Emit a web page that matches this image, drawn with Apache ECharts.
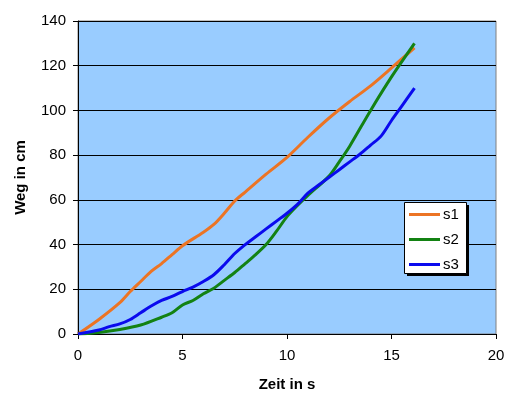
<!DOCTYPE html>
<html>
<head>
<meta charset="utf-8">
<script src="https://cdn.jsdelivr.net/npm/echarts@6/dist/echarts.min.js"></script>
<style>html,body{margin:0;padding:0;background:#fff}#c{width:514px;height:394px}</style>
</head>
<body>
<div id="c"></div>
<script>
const seriesNames = ['s1', 's2', 's3'];
const t1 = [0, 1, 2, 2.5, 3, 3.5, 4, 4.5, 5, 6, 6.5, 7, 7.5, 8, 9, 10, 11, 12, 13, 14, 15, 16.1];
const s1 = [0, 6.5, 14, 19, 23.5, 28, 31.5, 35.5, 39.5, 45.5, 49, 54, 59.5, 63.5, 71.5, 79, 88, 96.5, 104, 111, 119, 128];
const t2 = [0, 1, 2, 3, 4, 4.5, 5, 5.5, 6, 6.5, 7, 7.5, 8, 8.5, 9, 9.5, 10, 10.5, 11, 12, 12.5, 13, 14, 15, 16.1];
const s2 = [0, 0.7, 2, 4, 7.5, 9.5, 13, 15, 18, 20.5, 24, 27.5, 31.5, 35.5, 40, 46, 52.5, 57.5, 62, 70.5, 77, 84, 100, 115, 130];
const t3 = [0, 1, 1.5, 2, 2.5, 3, 3.5, 4, 4.5, 5, 5.5, 6, 6.5, 7, 7.5, 8, 8.5, 9, 9.5, 10, 10.5, 11, 11.5, 12, 12.5, 13, 13.5, 14, 14.5, 15, 15.5, 16.1];
const s3 = [0, 1.8, 3.3, 4.5, 6.5, 9.5, 12.5, 15, 16.8, 19, 21, 23.5, 26.5, 31, 36, 40, 43.5, 47, 50.5, 54, 58, 63, 66.5, 70, 73.5, 77, 80.5, 84.5, 88.5, 95.5, 102, 110];
const colors = ['#EC7424', '#138213', '#0A0AEE'];

const zip = (a, b) => a.map((x, i) => [x, b[i]]);
const chart = echarts.init(document.getElementById('c'), null, {renderer: 'canvas'});
const font = 'Liberation Sans, Arial, sans-serif';
chart.setOption({
  animation: false,
  color: colors,
  textStyle: {fontFamily: font},
  grid: {left: 78, right: 18, top: 21, bottom: 60, outerBoundsMode: 'none', containLabel: false, show: true, backgroundColor: '#99CCFF', borderColor: '#808080', borderWidth: 1},
  graphic: [
    {type: 'rect', left: 407, top: 205, shape: {width: 62, height: 71}, style: {fill: '#000'}, z: 90},
    {type: 'rect', left: 404, top: 202, shape: {x: 0.5, y: 0.5, width: 62, height: 71}, style: {fill: '#fff', stroke: '#000', lineWidth: 1}, z: 91}
  ],
  legend: {
    orient: 'vertical', left: 404, top: 202, padding: [5, 7, 5, 5],
    icon: 'rect', itemWidth: 31, itemHeight: 3, itemGap: 10,
    textStyle: {fontSize: 15, lineHeight: 14, color: '#000', fontFamily: font, padding: [0, 0, 0, -2]},
    data: seriesNames, z: 100
  },
  xAxis: {
    type: 'value', min: 0, max: 20, interval: 5,
    name: 'Zeit in s', nameLocation: 'middle', nameGap: 43,
    nameTextStyle: {fontSize: 15, fontWeight: 'bold', color: '#000', fontFamily: font},
    axisLine: {show: true, onZero: false, lineStyle: {color: '#000', width: 1}},
    axisTick: {show: true, length: 5, lineStyle: {color: '#000'}},
    axisLabel: {fontSize: 15, color: '#000', margin: 14, fontFamily: font},
    splitLine: {show: false}
  },
  yAxis: {
    type: 'value', min: 0, max: 140, interval: 20,
    name: 'Weg in cm', nameLocation: 'middle', nameGap: 50,
    nameTextStyle: {fontSize: 15, fontWeight: 'bold', color: '#000', fontFamily: font},
    axisLine: {show: true, lineStyle: {color: '#000', width: 1}},
    axisTick: {show: true, length: 5, lineStyle: {color: '#000'}},
    axisLabel: {fontSize: 15, color: '#000', margin: 12, fontFamily: font},
    splitLine: {show: true, lineStyle: {color: '#000', width: 1}}
  },
  series: [
    {name: seriesNames[0], type: 'line', data: zip(t1, s1), symbol: 'none', smooth: 0.3, lineStyle: {width: 3}},
    {name: seriesNames[1], type: 'line', data: zip(t2, s2), symbol: 'none', smooth: 0.3, lineStyle: {width: 3}},
    {name: seriesNames[2], type: 'line', data: zip(t3, s3), symbol: 'none', smooth: 0.3, lineStyle: {width: 3}}
  ]
});
</script>
</body>
</html>
